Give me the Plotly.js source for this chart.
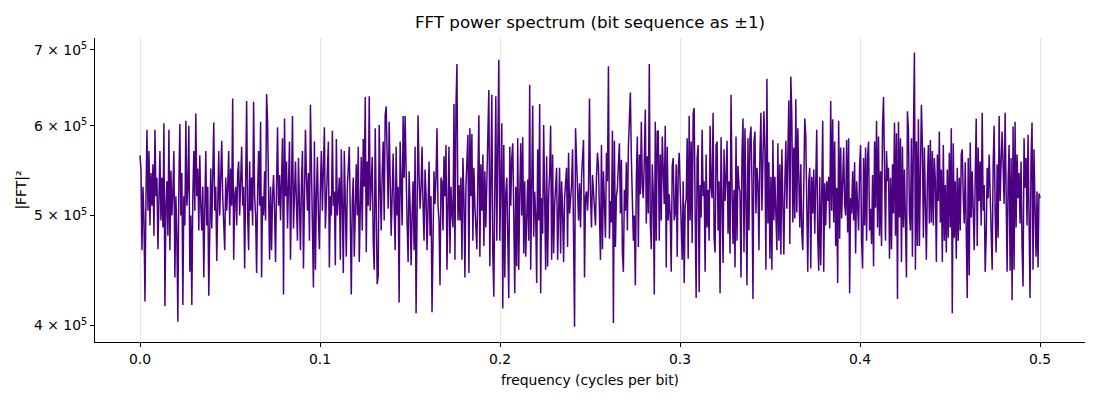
<!DOCTYPE html>
<html>
<head>
<meta charset="utf-8">
<script src="https://cdn.plot.ly/plotly-3.0.1.min.js"></script>
<style>
  html, body { margin: 0; padding: 0; background: #fff; }
  #chart { width: 1100px; height: 400px; }
</style>
</head>
<body>
<div id="chart"></div>
<script>
// |FFT|^2, in thousands (x1000 below), one value per bin
var powerThousands = [
  565,548,466,530,495,420,520,595,505,570,
  490,545,510,555,480,595,520,540,467,530,
  570,495,540,488,603,416,510,536,480,595,
  466,548,500,525,570,441,520,478,403,535,
  602,500,545,417,520,490,606,510,530,600,
  446,500,417,520,570,505,615,520,550,485,
  565,510,485,530,441,505,570,490,530,425,
  510,550,487,540,604,505,530,456,510,570,
  500,545,582,520,495,466,540,505,530,570,
  490,550,510,634,457,520,530,490,545,558,
  500,540,575,510,530,449,540,631,500,466,
  558,505,540,490,630,520,500,445,525,570,
  510,605,441,520,500,547,495,640,605,520,
  457,530,466,520,543,505,455,530,598,510,
  543,495,530,585,426,609,520,558,487,540,
  581,457,
  530,612,487,530,558,510,475,562,
  520,466,535,570,449,530,595,540,505,545,
  475,626,540,507,432,581,448,520,563,500,
  467,530,570,505,545,598,487,520,544,581,
  450,520,500,594,510,525,452,584,500,525,
  540,457,572,510,445,570,520,460,530,561,
  575,500,426,515,540,460,520,555,500,575,
  455,530,563,485,584,530,636,464,558,510,
  637,505,540,563,475,448,597,520,435,442,
  601,530,485,545,581,495,613,624,540,507,
  605,530,480,520,567,510,466,575,500,530,
  419,581,520,490,612,540,612,520,492,455,
  547,510,452,500,536,466,575,410,530,613,
  540,507,530,575,510,475,549,520,466,525,
  558,480,520,411,500,547,512,540,597,510,
  495,434,540,
  536,485,564,520,577,448,495,
  575,463,530,502,488,627,457,622,680,495,
  532,495,540,457,562,518,441,530,575,589,
  445,597,520,590,475,551,510,485,467,540,
  613,460,555,505,566,470,547,488,530,609,
  645,451,540,639,463,424,530,637,475,545,
  686,475,530,603,414,577,441,523,540,479,
  423,575,510,562,579,500,427,530,451,585,
  448,520,579,500,586,463,536,460,510,538,
  475,652,448,524,625,479,525,500,436,572,
  495,627,427,518,482,601,520,448,564,451,
  520,547,600,457,566,463,510,534,551,457,
  520,551,463,536,505,455,518,530,551,469,
  568,502,520,532,572,500,399,597,562,520,
  495,534,488,540,573,583,441,520,525,505,
  529,634,520,
  488,543,522,507,490,540,568,
  553,485,457,577,467,547,510,478,568,536,
  677,477,515,493,594,402,582,469,520,529,
  555,579,502,560,464,446,527,505,557,485,
  574,605,642,562,517,475,500,434,540,587,
  469,566,522,605,530,518,562,620,492,564,
  502,680,493,467,555,522,426,605,475,593,
  594,475,566,495,587,530,512,600,450,575,
  495,522,500,446,553,562,495,502,555,460,
  547,568,527,505,457,536,436,510,518,585,
  458,612,495,581,473,615,622,502,423,562,
  577,428,532,498,595,520,536,446,566,488,
  527,475,600,530,518,616,478,464,577,581,
  485,536,427,586,490,454,572,515,540,582,
  482,536,463,639,529,472,527,450,587,475,
  553,530,525,
  441,566,609,464,597,512,434,
  585,485,585,599,536,422,581,593,502,551,
  534,466,568,616,505,593,618,570,448,660,
  492,557,458,541,448,583,495,541,497,466,
  579,475,555,462,572,512,462,534,582,507,
  598,632,472,663,611,493,574,497,633,503,
  597,536,488,555,482,466,562,609,587,493,
  446,536,551,449,541,502,549,482,534,595,
  478,447,541,452,520,606,446,534,490,536,
  515,541,487,631,505,608,493,581,470,529,
  436,606,477,574,497,543,574,512,500,583,
  483,585,427,518,502,547,495,557,463,536,
  512,485,553,577,475,449,562,490,574,475,
  564,581,485,507,472,543,451,581,508,606,
  488,587,480,547,470,600,636,512,475,570,
  536,551,
  458,540,467,555,502,604,480,591,
  422,605,498,585,455,575,488,549,475,441,
  618,595,502,485,585,460,587,696,448,581,
  470,608,470,581,626,577,478,574,502,457,
  536,577,492,583,493,570,490,562,536,455,
  566,515,593,493,549,455,577,475,532,464,
  549,478,568,488,597,410,579,478,536,458,
  551,475,540,485,566,572,518,492,557,493,
  423,562,443,580,498,547,497,466,540,609,
  470,574,515,558,490,616,505,532,446,478,
  551,518,566,517,502,448,555,600,502,464,
  555,478,612,515,558,593,553,512,616,502,
  446,536,577,447,562,421,599,448,605,488,
  566,518,545,492,558,469,433,585,529,562,
  490,589,493,423,562,604,448,572,507,460,
  525,450,523,518
];

var xTickVals = [0, 0.1, 0.2, 0.3, 0.4, 0.5];
var xTickText = ["0.0", "0.1", "0.2", "0.3", "0.4", "0.5"];
var yTickVals = [400000, 500000, 600000, 700000];
var yTickText = ["4 × 10<sup>5</sup>", "5 × 10<sup>5</sup>", "6 × 10<sup>5</sup>", "7 × 10<sup>5</sup>"];

// rfft bins: 0 .. 0.5 cycles per bit
var n = powerThousands.length;
var freq = powerThousands.map(function (_, i) { return i * 0.5 / (n - 1); });
var power = powerThousands.map(function (v) { return v * 1000; });

var trace = {
  type: "scatter",
  mode: "lines",
  x: freq,
  y: power,
  line: { color: "#4b0082", width: 1.5 },
  hoverinfo: "skip"
};

var labelFont = { family: "DejaVu Sans", size: 13.9, color: "black" };

var layout = {
  width: 1100,
  height: 400,
  margin: { l: 95, r: 15, t: 37.5, b: 58.3 },
  paper_bgcolor: "white",
  plot_bgcolor: "white",
  showlegend: false,
  font: { family: "DejaVu Sans", size: 13.9, color: "black" },
  title: {
    text: "FFT power spectrum (bit sequence as ±1)",
    font: { family: "DejaVu Sans", size: 16.7, color: "black" },
    x: 0.5,
    xref: "paper",
    xanchor: "center",
    y: 1 - 22 / 400,
    yref: "container",
    yanchor: "middle"
  },
  xaxis: {
    range: [-0.025, 0.525],
    tickvals: xTickVals,
    ticktext: xTickText,
    tickfont: labelFont,
    showgrid: true,
    gridcolor: "#e6e6e6",
    gridwidth: 1,
    zeroline: false,
    showline: true,
    linecolor: "black",
    linewidth: 1,
    ticks: "outside",
    ticklen: 4,
    tickcolor: "black",
    title: { text: "frequency (cycles per bit)", font: labelFont, standoff: 9 }
  },
  yaxis: {
    type: "log",
    range: [5.5875, 5.8555],
    tickvals: yTickVals,
    ticktext: yTickText,
    tickfont: labelFont,
    showgrid: false,
    zeroline: false,
    showline: true,
    linecolor: "black",
    linewidth: 1,
    ticks: "outside",
    ticklen: 4,
    tickcolor: "black",
    title: { text: "|FFT|²", font: labelFont, standoff: 4 }
  }
};

var config = { displayModeBar: false, staticPlot: true };

Plotly.newPlot("chart", [trace], layout, config);
</script>
</body>
</html>
